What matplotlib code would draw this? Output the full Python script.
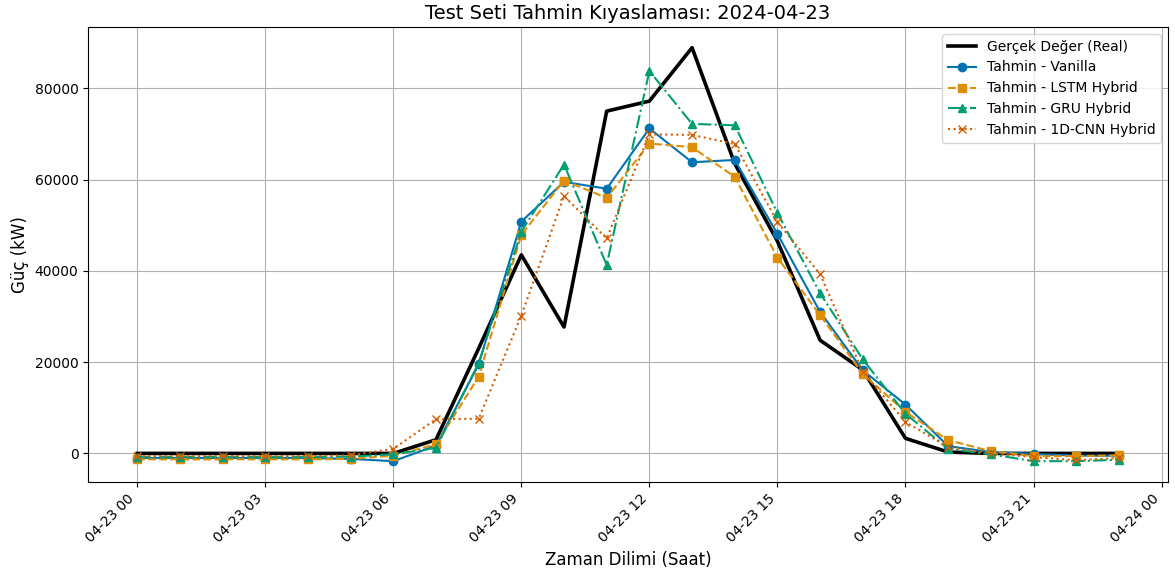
import numpy as np
import pandas as pd
import matplotlib
matplotlib.use("Agg")
import matplotlib.pyplot as plt
import matplotlib.dates as mdates

hours = pd.date_range("2024-04-23 00:00", periods=24, freq="h")

real = [0, 0, 0, 0, 0, 0, 0, 3000, 23000, 43500, 27700, 75000,
        77200, 88900, 63500, 46500, 24800, 18300, 3300, 300, 0, 0, 0, 0]
vanilla = [-1000, -1000, -1000, -1000, -1000, -1200, -1700, 1700, 19500, 50800, 59500, 58000,
           71200, 63800, 64300, 48100, 31000, 18200, 10700, 1600, 300, -100, -500, -500]
lstm = [-1300, -1300, -1300, -1300, -1300, -1200, -500, 2000, 16800, 47900, 59800, 56000,
        67900, 67100, 60600, 42900, 30300, 17400, 9100, 2900, 500, -600, -600, -400]
gru = [-800, -800, -800, -800, -800, -700, -200, 1200, 19800, 48600, 63300, 41300,
       83800, 72200, 71900, 52700, 35100, 20600, 8700, 1000, -200, -1700, -1700, -1400]
cnn = [-600, -600, -600, -600, -600, -400, 1000, 7500, 7600, 30200, 56400, 47100,
       69900, 69800, 67800, 50700, 39300, 17900, 6900, 1400, 0, -800, -1500, -1000]

labels = ["Gerçek Değer (Real)", "Tahmin - Vanilla", "Tahmin - LSTM Hybrid",
          "Tahmin - GRU Hybrid", "Tahmin - 1D-CNN Hybrid"]

fig, ax = plt.subplots(figsize=(11.75, 5.75), dpi=100)
fig.subplots_adjust(left=0.075, right=0.994, top=0.953, bottom=0.162)

ax.plot(hours, real, color="black", linewidth=2.6, label=labels[0])
ax.plot(hours, vanilla, color="#0173b2", linestyle="-", marker="o", markersize=6,
        linewidth=1.5, label=labels[1])
ax.plot(hours, lstm, color="#de8f05", linestyle="--", marker="s", markersize=6,
        linewidth=1.5, label=labels[2])
ax.plot(hours, gru, color="#029e73", linestyle="-.", marker="^", markersize=6,
        linewidth=1.5, label=labels[3])
ax.plot(hours, cnn, color="#d55e00", linestyle=":", marker="x", markersize=6,
        linewidth=1.5, label=labels[4])

ax.set_title("Test Seti Tahmin Kıyaslaması: 2024-04-23", fontsize=14)
ax.set_xlabel("Zaman Dilimi (Saat)", fontsize=12)
ax.set_ylabel("Güç (kW)", fontsize=12)

ax.xaxis.set_major_locator(mdates.HourLocator(byhour=range(0, 24, 3)))
ax.xaxis.set_major_formatter(mdates.DateFormatter("%m-%d %H"))
plt.setp(ax.get_xticklabels(), rotation=45, ha="right")

ax.grid(True, color="#b0b0b0", linewidth=0.8)
ax.legend(loc="upper right", fontsize=10)

fig.savefig("out.png", dpi=100)
